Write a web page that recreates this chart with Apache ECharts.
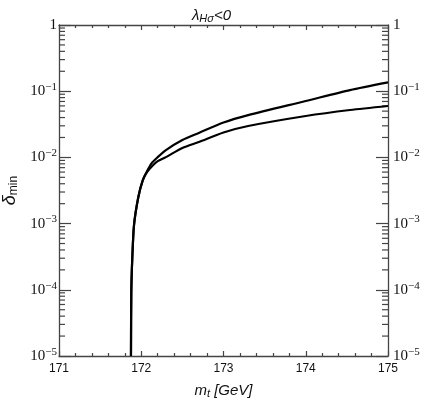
<!DOCTYPE html>
<html>
<head>
<meta charset="utf-8">
<script src="https://cdn.jsdelivr.net/npm/echarts@6/dist/echarts.min.js"></script>
<style>
  html, body { margin: 0; padding: 0; background: #fff; }
  #chartmain { width: 423px; height: 399px; }
</style>
</head>
<body>
<div id="chartmain"></div>
<script>
// m_t values (GeV) and delta_min values
var mtUpper = [171.875, 171.879, 171.891, 171.912, 171.964, 172.018, 172.07, 172.127, 172.2, 172.3, 172.5, 172.7, 173.0, 173.3, 174.0, 174.538, 175.0];
var deltaUpper = [1e-5, 9.3e-5, 3.0e-4, 9.5e-4, 2.5e-3, 4.5e-3, 6.2e-3, 8.2e-3, 0.0101, 0.0129, 0.0183, 0.0234, 0.0337, 0.0436, 0.0711, 0.104, 0.136];

var mtLower = [171.875, 171.879, 171.891, 171.912, 171.964, 172.018, 172.07, 172.146, 172.2, 172.3, 172.5, 172.7, 173.0, 173.3, 174.0, 174.538, 175.0];
var deltaLower = [1e-5, 9.3e-5, 3.0e-4, 9.5e-4, 2.5e-3, 4.5e-3, 6.0e-3, 7.7e-3, 8.8e-3, 0.0101, 0.0139, 0.0171, 0.0238, 0.0298, 0.0422, 0.052, 0.0598];

// log axis minor ticks (mantissa x decade)
var minorMantissa = [2, 3, 4, 5, 6, 7, 8, 9];
var decades = [-5, -4, -3, -2, -1];

var xMin = 171, xMax = 175;
var yMin = 1e-5, yMax = 1;

function pairs(xs, ys) {
    var out = [];
    for (var i = 0; i < xs.length; i++) out.push([xs[i], ys[i]]);
    return out;
}

var minorVals = [];
decades.forEach(function (d) {
    minorMantissa.forEach(function (m) {
        minorVals.push([xMin, m * Math.pow(10, d)]);
    });
});

var axisColor = '#444';
var serif = '"Liberation Serif", "DejaVu Serif", serif';
var sans = '"Liberation Sans", Arial, sans-serif';

function logLabel(v) {
    var e = Math.round(Math.log(v) / Math.LN10);
    if (e === 0) return '{b|1}';
    return '{b|10}{s|\u2212' + Math.abs(e) + '}';
}

var labelRich = {
    b: {fontFamily: serif, fontSize: 15, color: '#111'},
    s: {fontFamily: serif, fontSize: 11, color: '#111', padding: [0, 0, 8, 0]}
};

var myChart = echarts.init(document.getElementById('chartmain'));

var yAxisBase = function (pos) {
    return {
        type: 'log',
        logBase: 10,
        position: pos,
        min: yMin,
        max: yMax,
        interval: 1,
        axisLine: {show: true, lineStyle: {color: axisColor, width: 1.3}},
        axisTick: {show: true, inside: true, length: 12, lineStyle: {color: axisColor, width: 1.2}},
        splitLine: {show: false},
        axisLabel: {
            show: true,
            margin: pos === 'left' ? 2 : 5,
            formatter: logLabel,
            rich: labelRich
        }
    };
};

var yLeft = yAxisBase('left');
yLeft.name = '{d|\u03b4}{m|min}';
yLeft.nameLocation = 'middle';
yLeft.nameGap = 35;
yLeft.nameTextStyle = {
    rich: {
        d: {fontFamily: sans, fontStyle: 'italic', fontSize: 18, color: '#111'},
        m: {fontFamily: sans, fontSize: 12, color: '#111', padding: [6, 0, 0, 0]}
    }
};
var yRight = yAxisBase('right');

var xAxisBase = function (pos) {
    return {
        type: 'value',
        position: pos,
        min: xMin,
        max: xMax,
        interval: 1,
        axisLine: {show: true, onZero: false, lineStyle: {color: axisColor, width: 1.3}},
        axisTick: {show: true, inside: true, length: 5, lineStyle: {color: axisColor, width: 1.2}},
        minorTick: {show: true, splitNumber: 5, length: 3, lineStyle: {color: axisColor, width: 1.2}},
        splitLine: {show: false},
        axisLabel: {show: pos === 'bottom', margin: 7, fontFamily: sans, fontSize: 12, color: '#111'}
    };
};

var xBottom = xAxisBase('bottom');
xBottom.name = '{m|m}{t|t}{g| [GeV]}';
xBottom.nameLocation = 'middle';
xBottom.nameGap = 26;
xBottom.nameTextStyle = {
    rich: {
        m: {fontFamily: sans, fontStyle: 'italic', fontSize: 15, color: '#111'},
        t: {fontFamily: sans, fontStyle: 'italic', fontSize: 11, color: '#111', padding: [6, 0, 0, 0]},
        g: {fontFamily: sans, fontStyle: 'italic', fontSize: 15, color: '#111'}
    }
};
var xTop = xAxisBase('top');

var option = {
    backgroundColor: '#FFFFFF',
    animation: false,
    title: {
        text: '{l|\u03bb}{s|H\u03c3}{l|<0}',
        left: 'center',
        top: 3,
        textStyle: {
            fontWeight: 'normal',
            rich: {
                l: {fontFamily: sans, fontStyle: 'italic', fontWeight: 'normal', fontSize: 15, color: '#111'},
                s: {fontFamily: sans, fontStyle: 'italic', fontWeight: 'normal', fontSize: 11, color: '#111', padding: [5, 0, 0, 0]}
            }
        }
    },
    grid: {left: 59, right: 35, top: 25, bottom: 43, containLabel: false, outerBoundsMode: 'none'},
    xAxis: [xBottom, xTop],
    yAxis: [yLeft, yRight],
    series: [
        {
            type: 'line',
            data: pairs(mtUpper, deltaUpper),
            showSymbol: false,
            smooth: 0.25,
            lineStyle: {color: '#000', width: 2.2},
            clip: true
        },
        {
            type: 'line',
            data: pairs(mtLower, deltaLower),
            showSymbol: false,
            smooth: 0.25,
            lineStyle: {color: '#000', width: 2.2},
            clip: true
        },
        {
            // minor log ticks on left and right frame
            type: 'custom',
            data: minorVals,
            silent: true,
            renderItem: function (params, api) {
                var cs = params.coordSys;
                var y = api.coord([api.value(0), api.value(1)])[1];
                var style = {stroke: axisColor, lineWidth: 1.2};
                return {
                    type: 'group',
                    children: [
                        {type: 'line', shape: {x1: cs.x, y1: y, x2: cs.x + 6, y2: y}, style: style},
                        {type: 'line', shape: {x1: cs.x + cs.width - 6, y1: y, x2: cs.x + cs.width, y2: y}, style: style}
                    ]
                };
            }
        }
    ]
};

myChart.setOption(option);
</script>
</body>
</html>
